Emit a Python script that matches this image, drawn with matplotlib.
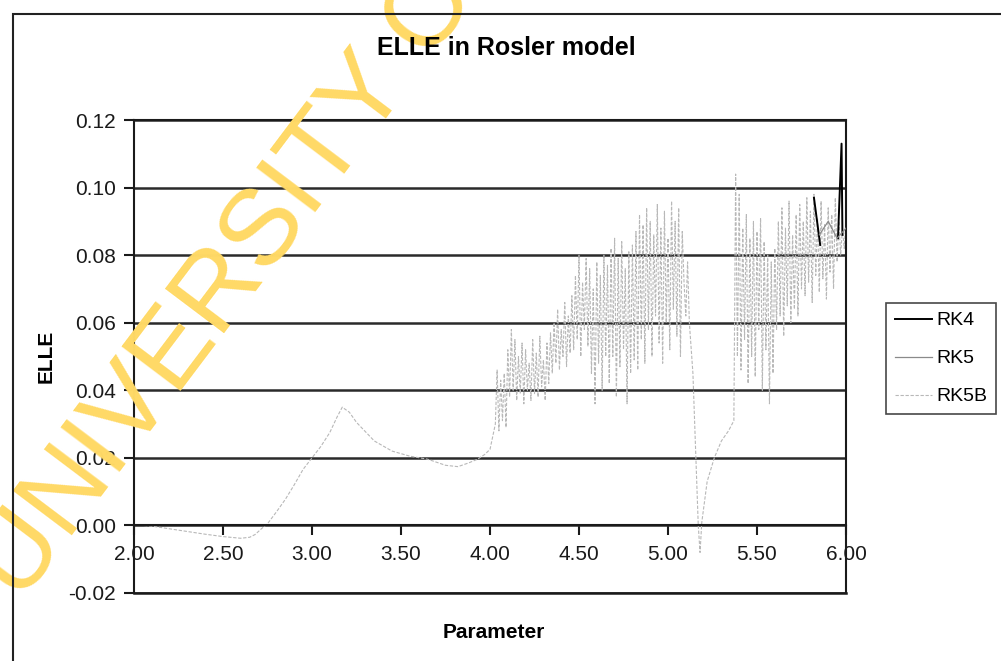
import numpy as np
import matplotlib.pyplot as plt
from matplotlib.patches import Rectangle

plt.rcParams['font.family'] = ['Liberation Sans', 'DejaVu Sans']

# eixos
x_ticks = [2.00, 2.50, 3.00, 3.50, 4.00, 4.50, 5.00, 5.50, 6.00]
y_ticks = [-0.02, 0.00, 0.02, 0.04, 0.06, 0.08, 0.10, 0.12]

# RK5B - parte suave (2.00 - 4.03)
smooth_x = [2.00, 2.05, 2.10, 2.20, 2.30, 2.40, 2.50, 2.60, 2.65, 2.68, 2.72,
            2.75, 2.80, 2.85, 2.90, 2.95, 3.00, 3.05, 3.10, 3.14, 3.17, 3.21,
            3.25, 3.35, 3.45, 3.55, 3.65, 3.75, 3.82, 3.88, 3.93, 3.97, 4.00, 4.03]
smooth_y = [0.0000, 0.0000, -0.0002, -0.0010, -0.0018, -0.0026, -0.0033, -0.0038,
            -0.0035, -0.0027, -0.0008, 0.0005, 0.0040, 0.0077, 0.0120, 0.0166,
            0.0200, 0.0234, 0.0275, 0.0320, 0.0350, 0.0335, 0.0305, 0.0250,
            0.0220, 0.0205, 0.0196, 0.0178, 0.0174, 0.0185, 0.0196, 0.0210,
            0.0225, 0.0300]

# RK5B - regiao caotica 1 (4.03 - 5.11, passo 0.01)
chaos1_start = 4.03
chaos1_y = [0.030, 0.046, 0.028, 0.043, 0.031, 0.045, 0.029,
            0.052, 0.038, 0.058, 0.040, 0.055,
            0.037, 0.050, 0.039, 0.054, 0.036, 0.052, 0.040, 0.048, 0.037, 0.055,
            0.039, 0.051, 0.038, 0.056, 0.041, 0.049, 0.037, 0.054, 0.042, 0.057,
            0.045, 0.060, 0.048, 0.064, 0.046, 0.058, 0.050, 0.066, 0.047, 0.062, 0.051,
            0.068, 0.052, 0.074, 0.055, 0.080, 0.050, 0.072, 0.058, 0.079, 0.053,
            0.076, 0.045, 0.070, 0.036, 0.078, 0.048, 0.074, 0.040, 0.080, 0.050, 0.077,
            0.042, 0.082, 0.050, 0.085, 0.038, 0.079, 0.047, 0.084, 0.052, 0.076,
            0.036, 0.081, 0.045, 0.083,
            0.049, 0.087, 0.046, 0.092, 0.055, 0.089, 0.048, 0.094, 0.058, 0.090,
            0.050, 0.086, 0.062, 0.095, 0.054, 0.088, 0.048, 0.093, 0.060, 0.085,
            0.052, 0.096, 0.064, 0.090, 0.056, 0.094, 0.050, 0.087,
            0.072, 0.062, 0.078]

# RK5B - queda perto de 5.17
drop_x = [5.12, 5.14, 5.15, 5.16, 5.17, 5.18, 5.19, 5.22, 5.26, 5.30, 5.34, 5.37]
drop_y = [0.060, 0.045, 0.030, 0.015, 0.000, -0.008, 0.001, 0.013, 0.020,
          0.025, 0.028, 0.031]

# RK5B - regiao caotica 2 (5.38 - 6.00, passo 0.01)
chaos2_start = 5.38
chaos2_y = [0.104, 0.050, 0.098,
            0.046, 0.088, 0.055, 0.092, 0.042, 0.085, 0.050, 0.090, 0.044, 0.087,
            0.058, 0.091, 0.040, 0.084, 0.052,
            0.080, 0.036, 0.078, 0.045, 0.082,
            0.058, 0.090, 0.062, 0.094, 0.056, 0.088, 0.065, 0.096, 0.060, 0.086,
            0.064, 0.092, 0.062,
            0.095, 0.070, 0.090, 0.068, 0.097, 0.072, 0.093, 0.066, 0.098, 0.074,
            0.091, 0.069, 0.096, 0.073, 0.089, 0.067, 0.094, 0.075, 0.092, 0.070,
            0.097, 0.078, 0.090,
            0.080, 0.088, 0.082, 0.090]

# RK4 e RK5 so aparecem no final (nan = trecho escondido)
rk4_x = [5.82, 5.835, 5.855, np.nan, 5.955, 5.975, 5.98]
rk4_y = [0.097, 0.091, 0.083, np.nan, 0.085, 0.113, 0.086]
rk5_x = [5.85, 5.90, 5.95, 6.00]
rk5_y = [0.086, 0.090, 0.085, 0.088]

chaos1_x = list(np.round(chaos1_start + 0.01 * np.arange(len(chaos1_y)), 2))
chaos2_x = list(np.round(chaos2_start + 0.01 * np.arange(len(chaos2_y)), 2))
rk5b_x = smooth_x + chaos1_x + drop_x + chaos2_x
rk5b_y = smooth_y + chaos1_y + drop_y + chaos2_y

# figura
fig = plt.figure(figsize=(10.01, 6.61), dpi=100)
fig.patch.set_facecolor('white')

# marca d'agua
fig.text(0.02, 0.085, 'UNIVERSITY OF CAPE COAST', fontsize=78, color='#FFD966',
         rotation=53, rotation_mode='anchor', ha='left', va='baseline', zorder=0)

# borda da area do grafico
fig.patches.append(Rectangle((0.013, -0.05), 1.2, 1.05 - 14 / 661,
                             transform=fig.transFigure, fill=False,
                             edgecolor='#222222', linewidth=1.5, zorder=1))

ax = fig.add_axes([134 / 1001, 1 - 593 / 661, (846 - 134) / 1001, (593 - 120) / 661])
ax.set_facecolor('none')

ax.plot(rk4_x, rk4_y, color='black', linewidth=1.4, label='RK4', zorder=3)
ax.plot(rk5_x, rk5_y, color='#8a8a8a', linewidth=0.9, label='RK5', zorder=3)
ax.plot(rk5b_x, rk5b_y, color='#b8b8b8', linewidth=0.8, linestyle=(0, (3, 1.5)),
        label='RK5B', zorder=2)

ax.set_xlim(2, 6)
ax.set_ylim(-0.02, 0.12)
ax.set_xticks(x_ticks)
ax.set_xticklabels(['%.2f' % v for v in x_ticks])
ax.set_yticks(y_ticks)
ax.set_yticklabels(['%.2f' % v for v in y_ticks])

ax.yaxis.grid(True, color='#2a2a2a', linewidth=1.8)
ax.set_axisbelow(True)
ax.spines['bottom'].set_position(('data', 0))
for s in ['left', 'right', 'top', 'bottom']:
    ax.spines[s].set_color('#1a1a1a')
    ax.spines[s].set_linewidth(1.5)
ax.axhline(-0.02, color='#1a1a1a', linewidth=1.8, clip_on=False)

ax.tick_params(axis='x', direction='out', length=7, width=1.5, pad=7,
               labelsize=15, colors='#1a1a1a')
ax.tick_params(axis='y', direction='out', length=7, width=1.5, pad=6,
               labelsize=15, colors='#1a1a1a')

ax.set_ylabel('ELLE', fontsize=15, fontweight='bold', labelpad=9)
fig.text(494 / 1001, 1 - 632 / 661, 'Parameter', fontsize=15, fontweight='bold',
         ha='center', va='center')
fig.text(506 / 1001, 1 - 48 / 661, 'ELLE in Rosler model', fontsize=18,
         fontweight='bold', ha='center', va='center')

leg = fig.legend(loc='upper left', bbox_to_anchor=(886 / 1001, 1 - 303 / 661),
                 fontsize=14, frameon=True, fancybox=False, handlelength=1.9,
                 labelspacing=1.05, borderpad=0.45, handletextpad=0.25,
                 borderaxespad=0)
leg.get_frame().set_edgecolor('#1a1a1a')
leg.get_frame().set_linewidth(1.2)

fig.savefig('out.png', dpi=100)
